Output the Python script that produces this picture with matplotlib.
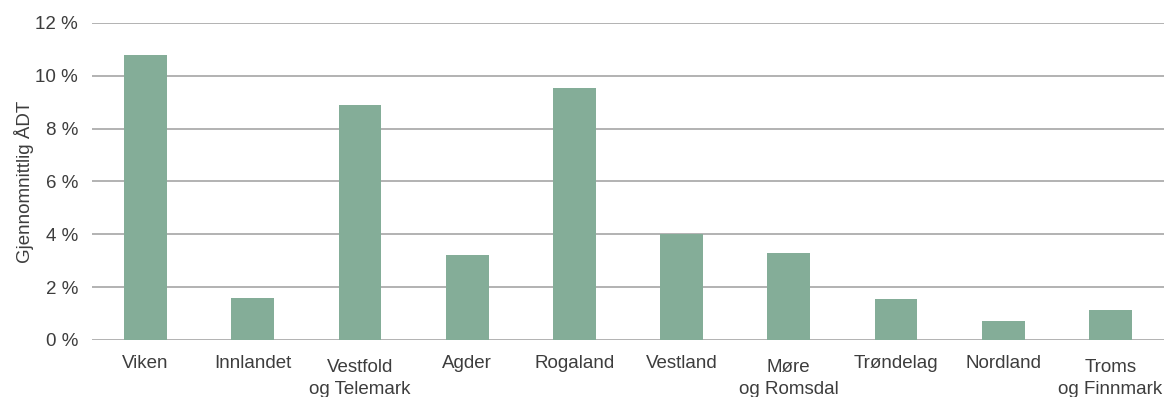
import matplotlib
matplotlib.use("Agg")
import matplotlib.pyplot as plt
from matplotlib.ticker import FuncFormatter
from matplotlib.transforms import blended_transform_factory, ScaledTranslation

regions = ["Viken", "Innlandet", "Vestfold\nog Telemark", "Agder", "Rogaland",
           "Vestland", "Møre\nog Romsdal", "Trøndelag", "Nordland", "Troms\nog Finnmark"]
share_pct = [10.8, 1.6, 8.9, 3.2, 9.55, 4.0, 3.3, 1.56, 0.72, 1.15]
y_ticks = [0, 2, 4, 6, 8, 10, 12]

bar_color = "#84ad98"
grid_color = "#acacac"
text_color = "#3d3d3d"

plt.rcParams["font.family"] = ["Liberation Sans", "DejaVu Sans"]

fig = plt.figure(figsize=(11.65, 3.97), dpi=100)
ax = fig.add_axes([92 / 1165, 1 - 340 / 397, (1164 - 92) / 1165, (340 - 23) / 397])

x = list(range(len(regions)))
ax.bar(x, share_pct, width=0.4, color=bar_color, zorder=3)

ax.set_xlim(-0.5, len(regions) - 0.5)
ax.set_ylim(0, 12)
ax.set_yticks(y_ticks)
ax.yaxis.set_major_formatter(FuncFormatter(lambda v, _: f"{v:.0f} %"))
ax.grid(axis="y", color=grid_color, linewidth=1.3, zorder=0)
ax.set_xticks(x)
ax.set_xticklabels([])

for side in ["top", "right", "left", "bottom"]:
    ax.spines[side].set_visible(False)
ax.tick_params(axis="y", length=0, pad=10, labelsize=13.5, labelcolor=text_color)
ax.tick_params(axis="x", length=0)

# Category names below the axis; two-line names sit a little lower
trans = blended_transform_factory(ax.transData, ax.transAxes)
for xi, name in zip(x, regions):
    drop = 19 if "\n" in name else 15
    t = trans + ScaledTranslation(0, -drop / 100, fig.dpi_scale_trans)
    ax.text(xi, 0, name, transform=t, ha="center", va="top", fontsize=13.5,
            color=text_color, linespacing=1.4, multialignment="center")

ax.set_ylabel("Gjennomnittlig ÅDT", fontsize=13.5, color=text_color, labelpad=1)

fig.savefig("out.png", dpi=100)
